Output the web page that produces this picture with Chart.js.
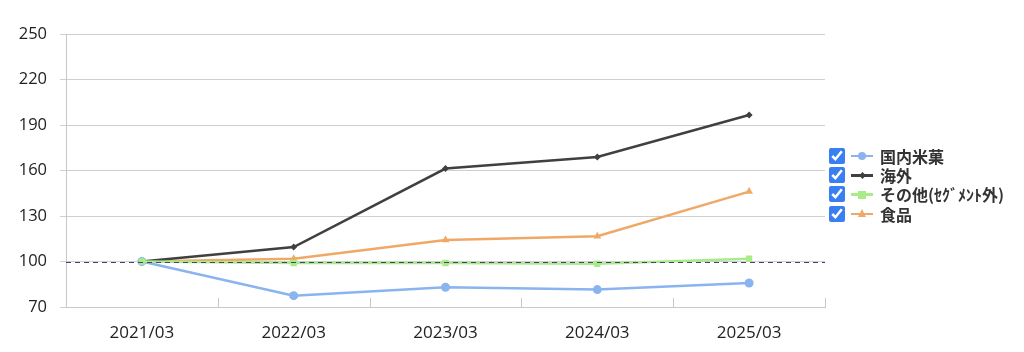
<!DOCTYPE html>
<html>
<head>
    <title>Index chart</title>
    <script src="https://cdn.jsdelivr.net/npm/chart.js"></script>
    <style>
        body {
            margin: 0;
            background: #fff;
            font-family: "Noto Sans CJK JP", "Noto Sans", sans-serif;
        }
        #wrap {
            position: relative;
            width: 1024px;
            height: 352px;
        }
        #legend {
            position: absolute;
            left: 829px;
            top: 146px;
        }
        .row {
            display: flex;
            align-items: center;
            height: 19.4px;
            font-size: 16px;
            font-weight: 700;
            color: #333;
        }
        .row input {
            margin: 0 6px 0 0;
            width: 16px;
            height: 16px;
            accent-color: #3a7ff2;
        }
        .sample {
            position: relative;
            width: 22px;
            height: 10px;
            margin-right: 7px;
        }
        .sample .ln {
            position: absolute;
            left: 0;
            top: 4px;
            width: 22px;
            height: 2.5px;
        }
        .sample .mk {
            position: absolute;
        }
    </style>
</head>
<body>
    <div id="wrap">
        <canvas id="myChart" width="1024" height="352"></canvas>
        <div id="legend"></div>
    </div>

    <script>
        const categories = ['2021/03', '2022/03', '2023/03', '2024/03', '2025/03'];
        const seriesNames = ['国内米菓', '海外', 'その他(ｾｸﾞﾒﾝﾄ外)', '食品'];
        const domesticValues = [100, 77.5, 83, 81.5, 85.8];
        const overseasValues = [100, 109.5, 161.3, 168.9, 196.6];
        const otherValues = [100, 99, 99, 98.5, 101.8];
        const foodValues = [100, 101.8, 114.2, 116.6, 146.1];
        const yTicks = [70, 100, 130, 160, 190, 220, 250];
        const baseline = 100;

        const colors = ['#8ab4ef', '#404040', '#a8ec88', '#f0a866'];
        const styles = ['circle', 'rectRot', 'rect', 'triangle'];
        const radii = [4.5, 3.5, 4.5, 4.5];
        const allValues = [domesticValues, overseasValues, otherValues, foodValues];

        // small tick marks at the category boundaries + dashed 100 line
        const extras = {
            id: 'extras',
            afterDatasetsDraw(chart) {
                const ctx = chart.ctx;
                const x = chart.scales.x, y = chart.scales.y;
                const area = chart.chartArea;
                ctx.save();
                ctx.strokeStyle = '#c8c8c8';
                ctx.lineWidth = 1;
                for (let i = 1; i <= categories.length; i++) {
                    const px = Math.round(x.getPixelForValue(i - 0.5)) + 0.5;
                    ctx.beginPath();
                    ctx.moveTo(px, area.bottom);
                    ctx.lineTo(px, area.bottom - 9);
                    ctx.stroke();
                }
                const py = Math.round(y.getPixelForValue(baseline)) + 0.5;
                ctx.strokeStyle = '#4a3d78';
                ctx.setLineDash([5, 4]);
                ctx.beginPath();
                ctx.moveTo(area.left, py);
                ctx.lineTo(area.right, py);
                ctx.stroke();
                ctx.restore();
            }
        };

        const ctx = document.getElementById('myChart').getContext('2d');
        const chart = new Chart(ctx, {
            type: 'line',
            data: {
                labels: categories,
                datasets: seriesNames.map((name, i) => ({
                    label: name,
                    data: allValues[i],
                    borderColor: colors[i],
                    backgroundColor: colors[i],
                    borderWidth: 2.5,
                    pointStyle: styles[i],
                    pointRadius: radii[i],
                    pointBorderWidth: 0,
                    tension: 0,
                    order: i === 2 ? 0 : i + 1
                }))
            },
            options: {
                responsive: false,
                animation: false,
                layout: { padding: { left: 0, right: 199, top: 34, bottom: 0 } },
                plugins: {
                    legend: { display: false },
                    tooltip: { enabled: false }
                },
                scales: {
                    x: {
                        offset: true,
                        grid: { display: false },
                        border: { display: true, color: '#c8c8c8' },
                        ticks: {
                            color: '#222',
                            font: { family: 'Open Sans', size: 17 },
                            padding: 8
                        },
                        afterFit(scale) { scale.height = 45; }
                    },
                    y: {
                        min: 70,
                        max: 250,
                        afterBuildTicks(scale) {
                            scale.ticks = yTicks.map(v => ({ value: v }));
                        },
                        grid: {
                            color: '#cfcfcf',
                            tickLength: 6,
                            drawTicks: true
                        },
                        border: { display: true, color: '#c8c8c8' },
                        ticks: {
                            color: '#222',
                            font: { family: 'Open Sans', size: 16.5 },
                            padding: 13
                        },
                        afterFit(scale) { scale.width = 66; }
                    }
                }
            },
            plugins: [extras]
        });

        // html legend with check boxes
        const legend = document.getElementById('legend');
        seriesNames.forEach((name, i) => {
            const row = document.createElement('div');
            row.className = 'row';
            let mk = '';
            if (styles[i] === 'circle') {
                mk = `<span class="mk" style="left:7px;top:1.5px;width:8px;height:8px;border-radius:50%;background:${colors[i]}"></span>`;
            } else if (styles[i] === 'rectRot') {
                mk = `<span class="mk" style="left:8.5px;top:2.5px;width:5px;height:5px;transform:rotate(45deg);background:${colors[i]}"></span>`;
            } else if (styles[i] === 'rect') {
                mk = `<span class="mk" style="left:7px;top:1.5px;width:8px;height:8px;background:${colors[i]}"></span>`;
            } else {
                mk = `<span class="mk" style="left:6.5px;top:0.5px;width:0;height:0;border-left:4.5px solid transparent;border-right:4.5px solid transparent;border-bottom:8px solid ${colors[i]}"></span>`;
            }
            row.innerHTML = `<input type="checkbox" checked>` +
                `<span class="sample"><span class="ln" style="background:${colors[i]}"></span>${mk}</span>` +
                `<span>${name}</span>`;
            row.querySelector('input').addEventListener('change', e => {
                chart.setDatasetVisibility(i, e.target.checked);
                chart.update();
            });
            legend.appendChild(row);
        });
    </script>
</body>
</html>
